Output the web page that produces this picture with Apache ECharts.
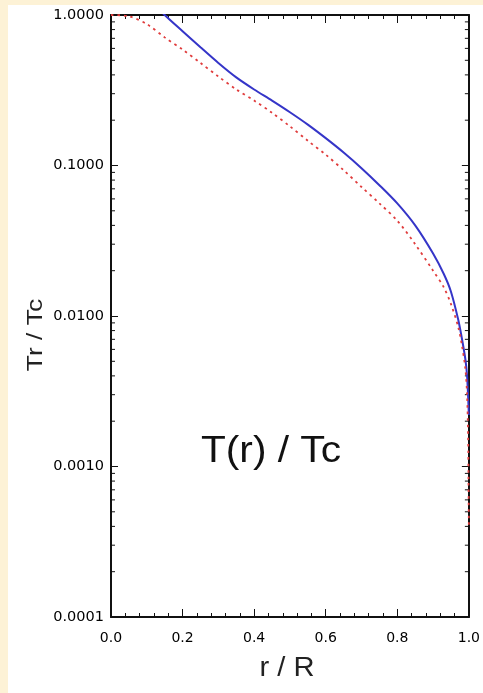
<!DOCTYPE html>
<html>
<head>
<meta charset="utf-8">
<script src="https://cdn.jsdelivr.net/npm/echarts@6/dist/echarts.min.js"></script>
<style>
  html, body { margin: 0; padding: 0; width: 483px; height: 693px; background: #fdf2d6; overflow: hidden; }
  #chart { position: absolute; left: 8px; top: 5px; width: 475px; height: 688px; background: #ffffff; }
</style>
</head>
<body>
<div id="chart"></div>
<script>
// ---- data ----
const rBlue = [0.00, 0.05, 0.10, 0.15, 0.20, 0.25, 0.30, 0.35, 0.40, 0.45, 0.50, 0.55, 0.60, 0.65, 0.70, 0.75, 0.80, 0.85, 0.90, 0.93, 0.95, 0.97, 0.98, 0.99, 0.995, 1.00];
const tBlue = [2.2, 1.75, 1.32, 1.00, 0.78, 0.61, 0.48, 0.385, 0.32, 0.27, 0.226, 0.187, 0.152, 0.122, 0.096, 0.074, 0.056, 0.040, 0.026, 0.019, 0.0145, 0.0095, 0.0072, 0.0052, 0.0040, 0.0022];

const rRed = [0.00, 0.05, 0.10, 0.15, 0.20, 0.25, 0.30, 0.35, 0.40, 0.45, 0.50, 0.55, 0.60, 0.65, 0.70, 0.75, 0.80, 0.85, 0.90, 0.93, 0.95, 0.97, 0.98, 0.99, 0.995, 0.998, 0.999, 1.00];
const tRed = [1.0, 0.98, 0.87, 0.71, 0.59, 0.48, 0.39, 0.32, 0.27, 0.224, 0.182, 0.146, 0.118, 0.093, 0.072, 0.056, 0.043, 0.030, 0.020, 0.0155, 0.012, 0.0085, 0.0065, 0.0045, 0.0030, 0.0015, 0.0008, 0.0004];

const xTickLabels = ['0.0', '0.2', '0.4', '0.6', '0.8', '1.0'];
const yTickLabels = ['0.0001', '0.0010', '0.0100', '0.1000', '1.0000'];
const yTitle = 'Tr / Tc';
const xTitle = 'r / R';
const innerLabel = 'T(r) / Tc';

// log minor tick positions (2..9 x 10^k)
const yMinorTicks = [];
[-4, -3, -2, -1].forEach(function (e) {
  for (let k = 2; k <= 9; k++) yMinorTicks.push(k * Math.pow(10, e));
});

const axisColor = '#111111';
const fontFam = '"DejaVu Sans", sans-serif';

const chart = echarts.init(document.getElementById('chart'), null, { renderer: 'canvas', width: 475, height: 688 });

function xAxisCfg(pos, showLabel) {
  return {
    type: 'value', position: pos, min: 0, max: 1, interval: 0.2,
    axisLine: { show: true, onZero: false, lineStyle: { color: axisColor, width: 2 } },
    axisTick: { show: true, inside: true, length: 8, lineStyle: { color: axisColor, width: 1 } },
    minorTick: { show: true, splitNumber: 5, length: 4, lineStyle: { color: axisColor, width: 1 } },
    splitLine: { show: false }, minorSplitLine: { show: false },
    axisLabel: {
      show: showLabel, margin: 14, color: '#000', fontSize: 14, fontFamily: fontFam,
      formatter: function (v) { return xTickLabels[Math.round(v / 0.2)]; }
    }
  };
}
function yAxisCfg(pos, showLabel) {
  return {
    type: 'log', logBase: 10, position: pos, min: 0.0001, max: 1, splitNumber: 4,
    axisLine: { show: true, onZero: false, lineStyle: { color: axisColor, width: 2 } },
    axisTick: { show: true, inside: true, length: 7, lineStyle: { color: axisColor, width: 1 } },
    splitLine: { show: false },
    axisLabel: {
      show: showLabel, margin: 7, color: '#000', fontSize: 14.5, fontFamily: fontFam,
      formatter: function (v) {
        const idx = Math.round(Math.log10(v)) + 4;
        return yTickLabels[idx];
      }
    }
  };
}

const option = {
  animation: false,
  backgroundColor: '#ffffff',
  grid: { left: 103, width: 363, top: 10, height: 602, containLabel: false },
  xAxis: [xAxisCfg('bottom', true), xAxisCfg('top', false)],
  yAxis: [yAxisCfg('left', true), yAxisCfg('right', false)],
  series: [
    {
      type: 'line', name: 'blue', xAxisIndex: 0, yAxisIndex: 0,
      data: rBlue.map(function (r, i) { return [r, tBlue[i]]; }),
      showSymbol: false, smooth: 0.3, clip: true,
      lineStyle: { color: '#3535c8', width: 2 }
    },
    {
      type: 'line', name: 'red', xAxisIndex: 0, yAxisIndex: 0,
      data: rRed.map(function (r, i) { return [r, tRed[i]]; }),
      showSymbol: false, smooth: 0.3, clip: true,
      lineStyle: { color: '#e03c3c', width: 1.8, type: [2.5, 4] }
    },
    {
      type: 'custom', xAxisIndex: 0, yAxisIndex: 0, silent: true, clip: false,
      data: yMinorTicks.map(function (v) { return [0, v]; }),
      renderItem: function (params, api) {
        const y = api.coord([0, api.value(1)])[1];
        const cs = params.coordSys;
        return {
          type: 'group',
          children: [
            { type: 'line', shape: { x1: cs.x, y1: y, x2: cs.x + 4, y2: y }, style: { stroke: axisColor, lineWidth: 1 } },
            { type: 'line', shape: { x1: cs.x + cs.width - 4, y1: y, x2: cs.x + cs.width, y2: y }, style: { stroke: axisColor, lineWidth: 1 } }
          ]
        };
      }
    }
  ],
  graphic: [
    {
      type: 'text', x: 28, y: 330, rotation: Math.PI / 2, scaleX: 1.2,
      style: { text: yTitle, fill: '#222', font: '22px "Liberation Sans", Arial, sans-serif', textAlign: 'center', textVerticalAlign: 'middle' }
    },
    {
      type: 'text', x: 279, y: 664, scaleX: 1.08,
      style: { text: xTitle, fill: '#222', font: '27px "Liberation Sans", Arial, sans-serif', textAlign: 'center', textVerticalAlign: 'middle' }
    },
    {
      type: 'text', x: 263, y: 447, scaleX: 1.1,
      style: { text: innerLabel, fill: '#111', font: '37px "Liberation Sans", Arial, sans-serif', textAlign: 'center', textVerticalAlign: 'middle' }
    }
  ]
};
chart.setOption(option);
</script>
</body>
</html>
